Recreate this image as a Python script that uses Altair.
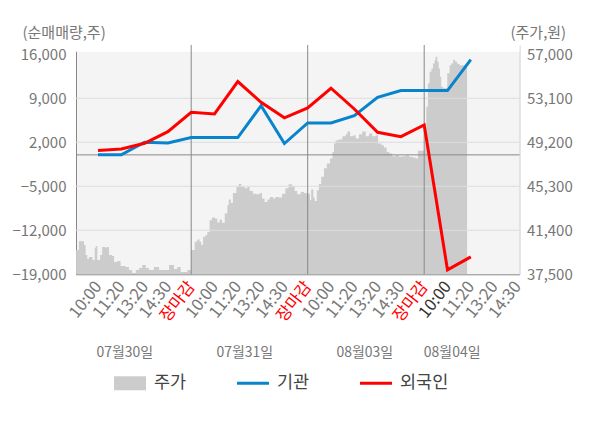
import json
import altair as alt
import pandas as pd

F = "Noto Sans CJK KR"

# ---------------- data ----------------
xlabels = (["10:00", "11:20", "13:20", "14:30", "장마감"] * 3) + ["10:00", "11:20", "13:20", "14:30"]
days = ["07월30일", "07월31일", "08월03일", "08월04일"]
day_pos = [1.15, 6.3, 11.45, 15.2]
close_pos = [4, 9, 14]

line_pos = list(range(17))
inst = [0, 0, 2000, 1900, 2750, 2750, 2750, 7840, 1800, 5090, 5090, 6250, 9160, 10230, 10230, 10230, 15160]
foreign = [680, 950, 1850, 3700, 6780, 6520, 11660, 8370, 5890, 7480, 10600, 7300, 3600, 2900, 4770, -18300, -16230]

price_pos = [-0.94, -0.91, -0.82, -0.69, -0.60, -0.53, -0.46, -0.39, -0.24, -0.14, -0.10, -0.03, 0.09, 0.18,
             0.33, 0.37, 0.47, 0.61, 0.69, 0.83, 0.97, 1.19, 1.33, 1.47, 1.62, 1.76, 1.90, 2.05, 2.19, 2.40,
             2.62, 2.83, 3.05, 3.26, 3.40, 3.55, 3.83, 3.95,
             4.00, 4.15, 4.26, 4.36, 4.43, 4.51, 4.61, 4.69, 4.79, 4.89, 5.01, 5.12, 5.22, 5.32, 5.44, 5.55,
             5.61, 5.70, 5.79, 5.94, 6.04, 6.15, 6.30, 6.41, 6.51, 6.65, 6.79, 6.94, 7.04, 7.15, 7.27, 7.37,
             7.51, 7.61, 7.76, 7.90, 8.04, 8.18, 8.33, 8.44, 8.55, 8.70, 8.84, 8.96,
             8.98, 9.10, 9.15, 9.24, 9.30, 9.39, 9.48, 9.58, 9.70, 9.82, 9.96, 10.06, 10.13, 10.20, 10.34,
             10.49, 10.63, 10.70, 10.82, 10.96, 11.06, 11.20, 11.34, 11.49, 11.63, 11.77, 11.92, 12.02, 12.16,
             12.27, 12.39, 12.50, 12.63, 12.78, 12.92, 13.06, 13.21, 13.35, 13.49, 13.63, 13.73, 13.87, 13.95,
             14.02, 14.09, 14.16, 14.23, 14.31, 14.38, 14.45, 14.49, 14.56, 14.62, 14.68, 14.73, 14.81, 14.89,
             14.99, 15.09, 15.16, 15.24, 15.33, 15.42, 15.52, 15.66, 15.80, 15.84]
price_val = [39650, 39650, 40440, 40440, 40090, 39210, 38860, 39030, 38770, 39820, 40000, 38770, 39210, 39910,
             39820, 39910, 39210, 39120, 38590, 38680, 38240, 38150, 37880, 37620, 37880, 38060, 38320, 38060,
             37880, 38150, 37880, 37880, 38320, 37970, 38150, 37710, 37880, 37880,
             39650, 40380, 40590, 40380, 40090, 40820, 40970, 41260, 42300, 42530, 42450, 42090, 42360, 42060,
             42890, 43620, 44120, 43820, 44710, 45270, 45500, 45270, 45120, 45270, 44880, 44650, 44590, 44710,
             44210, 43910, 44120, 44350, 44210, 44350, 44300, 44650, 45120, 45480, 45330, 44880, 44590, 44790,
             44710, 44590,
             44650, 44060, 45010, 44300, 44000, 44940, 45500, 46150, 46890, 47330, 47770, 48350, 49090, 49390,
             49450, 49740, 49920, 50150, 49740, 49830, 49540, 49920, 50150, 49740, 49980, 49740, 49830, 49090,
             48940, 48740, 48350, 48210, 47970, 48060, 47910, 47970, 48060, 47910, 47860, 47770, 48440, 48440,
             48440,
             50300, 52360, 54430, 55460, 55750, 56190, 56490, 56780, 56340, 55750, 55010, 54130, 53990, 53990,
             55310, 56040, 56190, 56490, 56340, 56130, 56040, 56040, 55890, 55890]

left_ticks = [-19000, -12000, -5000, 2000, 9000, 16000]
right_ticks = [37500, 41400, 45300, 49200, 53100, 57000]
grid_vals = [9000, 2000, -5000, -12000]
series = ["주가", "기관", "외국인"]
colors = ["#cccccc", "#0784cc", "#ff0000"]

# ---------------- layout ----------------
W, H = 443.5, 229.3


def xs():
    return alt.Scale(domain=[-0.944, 18.09], nice=False, zero=False)


def ls():
    return alt.Scale(domain=[-19000, 17480], nice=False, zero=False)


pscale = alt.Scale(domain=[37500, 57824], nice=False, zero=False)

price_df = pd.DataFrame({"pos": price_pos, "price": price_val})
inst_df = pd.DataFrame({"pos": line_pos, "val": inst})
for_df = pd.DataFrame({"pos": line_pos, "val": foreign})
close_df = pd.DataFrame({"pos": close_pos})
grid_df = pd.DataFrame({"v": grid_vals})
day_df = pd.DataFrame({"pos": day_pos, "day": days})
leg_df = pd.DataFrame({"series": series})
one = pd.DataFrame({"a": [0]})

label_color = {
    "condition": [
        {"test": "datum.value == 4 || datum.value == 9 || datum.value == 14", "value": "#ff0000"},
        {"test": "datum.value == 15", "value": "#333333"},
    ],
    "value": "#777777",
}


def xaxis():
    return alt.Axis(values=list(range(len(xlabels))),
                    labelExpr=json.dumps(xlabels, ensure_ascii=False) + "[datum.value]",
                    labelAngle=-52, labelAlign="right", labelBaseline="middle", labelPadding=9,
                    labelFlush=False, labelOverlap=False, ticks=False, grid=False, domain=True,
                    domainColor="#888888", labelFontSize=16.5, labelFont=F, labelColor=label_color,
                    title=None)


def X(field="pos:Q"):
    return alt.X(field, scale=xs(), axis=xaxis())


left_axis = alt.Axis(values=left_ticks, format=",.0f", orient="left", grid=False, ticks=False,
                     domain=True, domainColor="#888888", labelPadding=10, labelFontSize=15,
                     labelColor="#777777", labelFont=F, title="(순매매량,주)", titleAngle=0,
                     titleAlign="left", titleBaseline="middle", titleX=-54, titleY=-12, titleFontSize=15,
                     titleFontWeight="normal", titleColor="#777777", titleFont=F)

right_axis = alt.Axis(values=right_ticks, format=",.0f", orient="right", grid=False, ticks=False,
                      domain=True, domainColor="#cccccc", labelPadding=7, labelFontSize=15,
                      labelColor="#777777", labelFont=F, title="(주가,원)", titleAngle=0, titleAlign="left",
                      titleBaseline="middle", titleX=-9.5, titleY=-12, titleFontSize=15,
                      titleFontWeight="normal", titleColor="#777777", titleFont=F)

price = alt.Chart(price_df).mark_area(color="#cccccc", clip=True, interpolate="step-after").encode(
    x=X(),
    y=alt.Y("price:Q", scale=pscale, axis=right_axis),
    y2=alt.datum(37500),
)

strip = alt.Chart(one).mark_rect(color="white").encode(
    x=alt.value(0), x2=alt.value(W),
    y=alt.YDatum(17480, scale=ls(), axis=None), y2=alt.datum(16410))

grid = alt.Chart(grid_df).mark_rule(color="#dddddd", strokeWidth=1).encode(
    y=alt.Y("v:Q", scale=ls(), axis=left_axis), x=alt.value(0), x2=alt.value(W))

zero = alt.Chart(one).mark_rule(color="#888888", strokeWidth=1).encode(
    y=alt.YDatum(0, scale=ls(), axis=None), x=alt.value(0), x2=alt.value(W))

vlines = alt.Chart(close_df).mark_rule(color="#888888", strokeWidth=1).encode(
    x=X(), y=alt.value(0), y2=alt.value(H))

blue = alt.Chart(inst_df).mark_line(color="#0784cc", strokeWidth=3).encode(
    x=X(), y=alt.Y("val:Q", scale=ls(), axis=None))

red = alt.Chart(for_df).mark_line(color="#ff0000", strokeWidth=3).encode(
    x=X(), y=alt.Y("val:Q", scale=ls(), axis=None))

day_text = alt.Chart(day_df).mark_text(fontSize=14, color="#777777", font=F).encode(
    x=X(), y=alt.value(308), text="day:N")

rect_path = "M-1,-0.44L1,-0.44L1,0.44L-1,0.44Z"
line_path = "M-1,-0.09L1,-0.09L1,0.09L-1,0.09Z"
leg_opts = dict(orient="none", legendX=38, legendY=322, direction="horizontal", title=None,
                symbolSize=1024, symbolOpacity=1, symbolStrokeWidth=0, labelFontSize=17.5,
                labelColor="#444444", labelFont=F, columnPadding=50, labelOffset=8, padding=0)
legend_layer = alt.Chart(leg_df).mark_point(filled=True, opacity=0).encode(
    x=alt.value(0), y=alt.value(0),
    color=alt.Color("series:N", scale=alt.Scale(domain=series, range=colors),
                    legend=alt.Legend(**leg_opts), sort=series),
    shape=alt.Shape("series:N", scale=alt.Scale(domain=series, range=[rect_path, line_path, line_path]),
                    legend=alt.Legend(**leg_opts), sort=series),
)

chart = alt.layer(price, strip, grid, zero, vlines, blue, red, day_text, legend_layer).resolve_scale(
    y="independent").properties(
    width=W, height=H,
    padding={"left": 68, "top": 37, "right": 72, "bottom": 145},
    autosize="none",
).configure_view(fill="#f4f4f4", stroke=None)

chart.save("out.html", embed_options={"renderer": "svg", "actions": False})
